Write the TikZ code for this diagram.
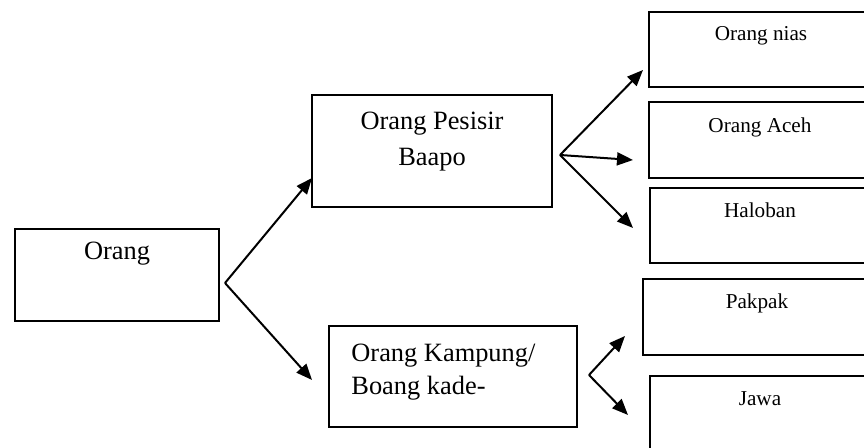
\documentclass[tikz,border=0pt]{standalone}
\usepackage{fontspec}
\setmainfont{Liberation Serif}
\usepackage{tikz}
\usetikzlibrary{arrows.meta}

\tikzset{
	box/.style={draw, line width=0.9pt, rectangle, inner sep=0pt},
	bigtext/.style={font=\fontsize{13.2}{16}\selectfont, inner sep=0pt, anchor=base},
	smalltext/.style={font=\fontsize{10.6}{13}\selectfont, inner sep=0pt, anchor=base},
	arr/.style={line width=1pt, -{Triangle[length=8pt,width=6.5pt]}}
}

\begin{document}
\begin{tikzpicture}[x=0.5pt, y=-0.5pt]
				\clip (0,0) rectangle (864,448);
				\node[box, minimum width=102pt, minimum height=46pt] (orang) at (117,275) {};
				\node[box, minimum width=120pt, minimum height=56pt] (pesisir) at (432,151) {};
				\node[box, minimum width=124pt, minimum height=50.5pt] (kampung) at (453,376.5) {};
				\node[box, minimum width=112pt, minimum height=37.5pt] (nias) at (761,49.5) {};
				\node[box, minimum width=112pt, minimum height=38pt] (aceh) at (761,140) {};
				\node[box, minimum width=110pt, minimum height=37.5pt] (haloban) at (760,225.5) {};
				\node[box, minimum width=114pt, minimum height=38pt] (pakpak) at (757,317) {};
				\node[box, minimum width=110pt, minimum height=38pt] (jawa) at (760,414) {};
				\node[bigtext] (t-orang) at (117,260) {Orang};
				\node[bigtext] (t-pesisir1) at (432,130) {Orang Pesisir};
				\node[bigtext] (t-pesisir2) at (432,166) {Baapo};
				\node[bigtext, anchor=base west] (t-kampung1) at (351,362) {Orang Kampung/};
				\node[bigtext, anchor=base west] (t-kampung2) at (351,395) {Boang kade-};
				\node[smalltext] (t-nias) at (761,41) {Orang nias};
				\node[smalltext] (t-aceh) at (760,133) {Orang Aceh};
				\node[smalltext] (t-haloban) at (760,218) {Haloban};
				\node[smalltext] (t-pakpak) at (757,309) {Pakpak};
				\node[smalltext] (t-jawa) at (760,406) {Jawa};
				\coordinate (f1) at (225,283);
				\coordinate (f2) at (560,155);
				\coordinate (f3) at (589,375);
				\coordinate (p1) at (312,178);\coordinate (p2) at (312,380);
				\coordinate (q1) at (643,70);\coordinate (q2) at (633,160);\coordinate (q3) at (633,228);
				\coordinate (r1) at (625,336);\coordinate (r2) at (628,415);
				\draw[arr] (f1) -- (p1);\draw[arr] (f1) -- (p2);
				\draw[arr] (f2) -- (q1);\draw[arr] (f2) -- (q2);\draw[arr] (f2) -- (q3);
				\draw[arr] (f3) -- (r1);\draw[arr] (f3) -- (r2);
			\end{tikzpicture}
\end{document}
